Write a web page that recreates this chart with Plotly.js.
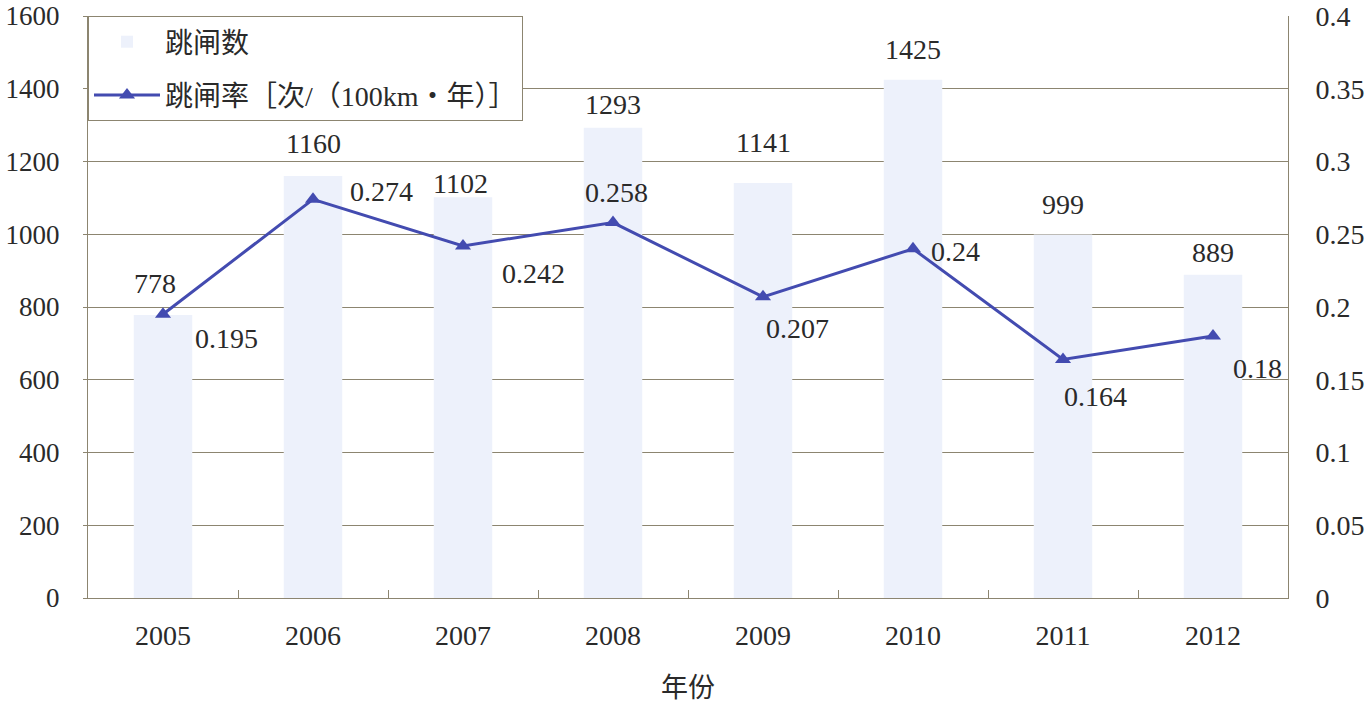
<!DOCTYPE html>
<html>
<head>
<meta charset="utf-8">
<script src="https://cdn.plot.ly/plotly-3.0.1.min.js"></script>
<style>html,body{margin:0;padding:0;background:#fff;}#chart{width:1367px;height:703px;}</style>
</head>
<body>
<div id="chart"></div>
<script>
const years = ['2005','2006','2007','2008','2009','2010','2011','2012'];
const tripCounts = [778, 1160, 1102, 1293, 1141, 1425, 999, 889];
const tripRates = [0.195, 0.274, 0.242, 0.258, 0.207, 0.24, 0.164, 0.18];
const leftTicks = [0, 200, 400, 600, 800, 1000, 1200, 1400, 1600];
const rightTicks = [0, 0.05, 0.1, 0.15, 0.2, 0.25, 0.3, 0.35, 0.4];
const rightTickText = ['0', '0.05', '0.1', '0.15', '0.2', '0.25', '0.3', '0.35', '0.4'];

// label offsets (style only)
const countLabelShift = [[-8, 32], [0, 33], [-3, 14], [0, 23], [0, 40], [0, 30], [0, 30], [0, 22]];
const rateLabelShift = [[63, -24], [68, 8], [70, -28], [3, 30], [34, -32], [42, -3], [32, -37], [44, -32]];

const FONT = 'Liberation Serif, Times New Roman, Noto Sans CJK SC, serif';
const txtColor = '#2a2a2a';
const gridColor = '#8c8570';

const barTrace = {
  type: 'bar', x: years, y: tripCounts, name: '跳闸数',
  width: 0.39,
  marker: {color: '#edf1fb', line: {width: 0}},
  legendgroup: 'a', hoverinfo: 'x+y'
};
const lineTrace = {
  type: 'scatter', mode: 'lines+markers', x: years, y: tripRates, yaxis: 'y2',
  name: '跳闸率［次/（100km・年）］',
  line: {color: '#434bb0', width: 3},
  marker: {symbol: 'triangle-up', size: 14, color: '#434bb0'},
  legendgroup: 'b'
};

const annotations = [];
years.forEach((yr, i) => {
  annotations.push({
    x: i, y: tripCounts[i], xref: 'x', yref: 'y', text: String(tripCounts[i]),
    showarrow: false, xanchor: 'center', yanchor: 'middle',
    xshift: countLabelShift[i][0], yshift: countLabelShift[i][1],
    font: {family: FONT, size: 28, color: txtColor}
  });
  annotations.push({
    x: i, y: tripRates[i], xref: 'x', yref: 'y2', text: String(tripRates[i]),
    showarrow: false, xanchor: 'center', yanchor: 'middle',
    xshift: rateLabelShift[i][0], yshift: rateLabelShift[i][1],
    font: {family: FONT, size: 28, color: txtColor}
  });
});

const layout = {
  width: 1367, height: 703,
  margin: {l: 88, r: 79, t: 16, b: 105},
  paper_bgcolor: '#ffffff', plot_bgcolor: '#ffffff',
  font: {family: FONT, size: 26, color: txtColor},
  showlegend: true,
  legend: {
    x: 0, y: 1, xanchor: 'left', yanchor: 'top',
    bgcolor: '#ffffff', bordercolor: '#8c8570', borderwidth: 1,
    font: {family: FONT, size: 28, color: txtColor},
    traceorder: 'grouped', tracegroupgap: 14, itemwidth: 66
  },
  xaxis: {
    type: 'category', range: [-0.5, 7.5],
    showline: true, linecolor: gridColor, linewidth: 1,
    ticks: 'inside', tickson: 'boundaries', ticklen: 8, tickcolor: gridColor,
    showgrid: false,
    ticklabelstandoff: 12,
    tickfont: {family: FONT, size: 28, color: txtColor},
    title: {text: '年份', font: {family: FONT, size: 27, color: txtColor}, standoff: 28}
  },
  yaxis: {
    range: [0, 1600], tickvals: leftTicks, ticktext: leftTicks.map(String),
    showline: true, linecolor: gridColor, linewidth: 1,
    showgrid: true, gridcolor: gridColor, gridwidth: 1,
    ticks: 'outside', ticklen: 4, tickcolor: gridColor,
    zeroline: false,
    ticklabelstandoff: 18,
    tickfont: {family: FONT, size: 27, color: txtColor}
  },
  yaxis2: {
    range: [0, 0.4], overlaying: 'y', side: 'right',
    tickvals: rightTicks, ticktext: rightTickText,
    showline: true, linecolor: gridColor, linewidth: 1,
    showgrid: false, zeroline: false, ticks: '',
    ticklabelstandoff: 21,
    tickfont: {family: FONT, size: 28, color: txtColor}
  },
  annotations: annotations,
  bargap: 0.6
};

Plotly.newPlot('chart', [barTrace, lineTrace], layout, {displayModeBar: false, staticPlot: true});
</script>
</body>
</html>
